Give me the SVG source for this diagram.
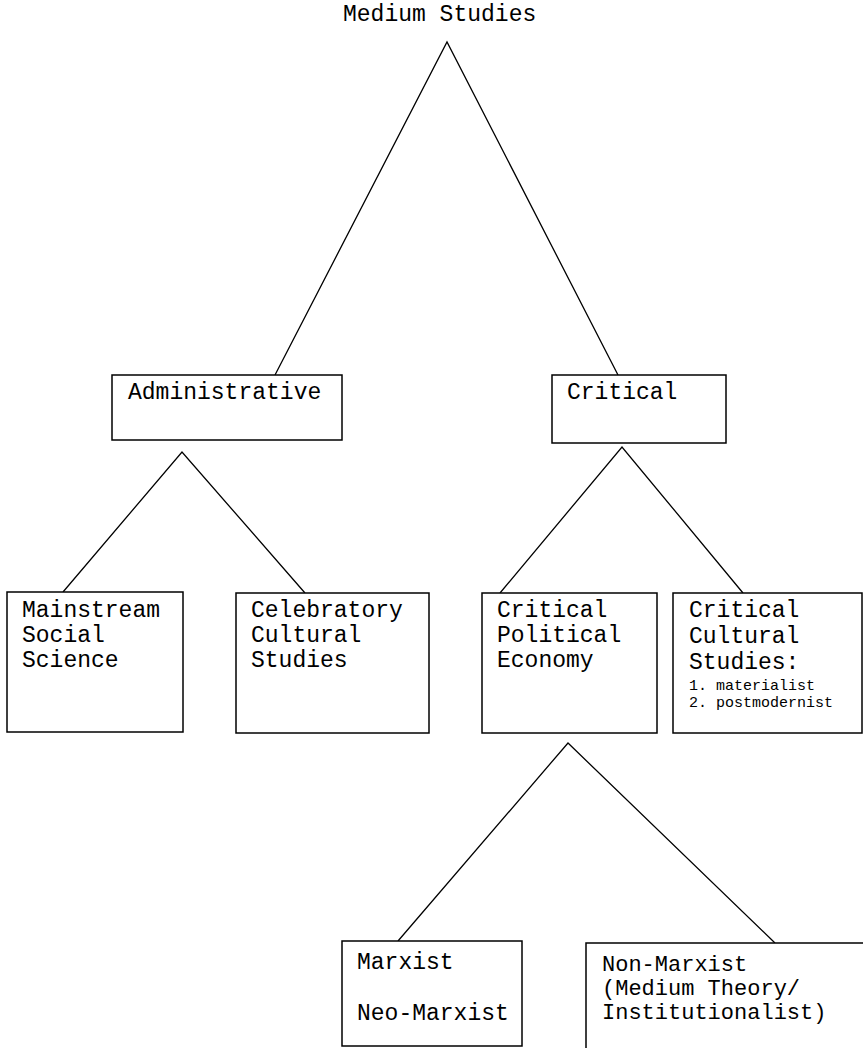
<svg xmlns="http://www.w3.org/2000/svg" width="863" height="1048" viewBox="0 0 863 1048">
<style>
.box{fill:#fff;stroke:#000;stroke-width:1.5}
.t{font-family:"Liberation Mono","Courier New",monospace;font-size:23px;fill:#000}
.n{font-size:22px}
.s{font-family:"Liberation Mono","Courier New",monospace;font-size:15px;fill:#000}
.c{stroke:#000;stroke-width:1.3;fill:none}
</style>
<rect width="863" height="1048" fill="#fff"/>
<g id="connectors">
<polyline class="c" points="275,375 447,42 618,375"/>
<polyline class="c" points="63,592 182,452 305,593"/>
<polyline class="c" points="500,593 622,447 743,593"/>
<polyline class="c" points="398,941 568,743 775,943"/>
</g>
<g id="medium-studies"><text class="t" x="343" y="21">Medium Studies</text></g>
<g id="administrative"><rect class="box" x="112" y="375" width="230" height="65"/><text class="t" x="128" y="399">Administrative</text></g>
<g id="critical"><rect class="box" x="552" y="375" width="174" height="68"/><text class="t" x="567" y="399">Critical</text></g>
<g id="mainstream"><rect class="box" x="7" y="592" width="176" height="140"/><text class="t" x="22" y="617">Mainstream</text><text class="t" x="22" y="642">Social</text><text class="t" x="22" y="667">Science</text></g>
<g id="celebratory"><rect class="box" x="236" y="593" width="193" height="140"/><text class="t" x="251" y="617">Celebratory</text><text class="t" x="251" y="642">Cultural</text><text class="t" x="251" y="667">Studies</text></g>
<g id="cpe"><rect class="box" x="482" y="593" width="175" height="140"/><text class="t" x="497" y="617">Critical</text><text class="t" x="497" y="642">Political</text><text class="t" x="497" y="667">Economy</text></g>
<g id="ccs"><rect class="box" x="673" y="593" width="189" height="140"/><text class="t" x="689" y="617">Critical</text><text class="t" x="689" y="643">Cultural</text><text class="t" x="689" y="669">Studies:</text><text class="s" x="689" y="690">1. materialist</text><text class="s" x="689" y="707">2. postmodernist</text></g>
<g id="marxist"><rect class="box" x="342" y="941" width="180" height="105"/><text class="t" x="357" y="969">Marxist</text><text class="t" x="357" y="1020">Neo-Marxist</text></g>
<g id="non-marxist"><rect class="box" x="586" y="943" width="290" height="120"/><text class="t n" x="602" y="971">Non-Marxist</text><text class="t n" x="602" y="995">(Medium Theory/</text><text class="t n" x="602" y="1019">Institutionalist)</text></g>
</svg>
